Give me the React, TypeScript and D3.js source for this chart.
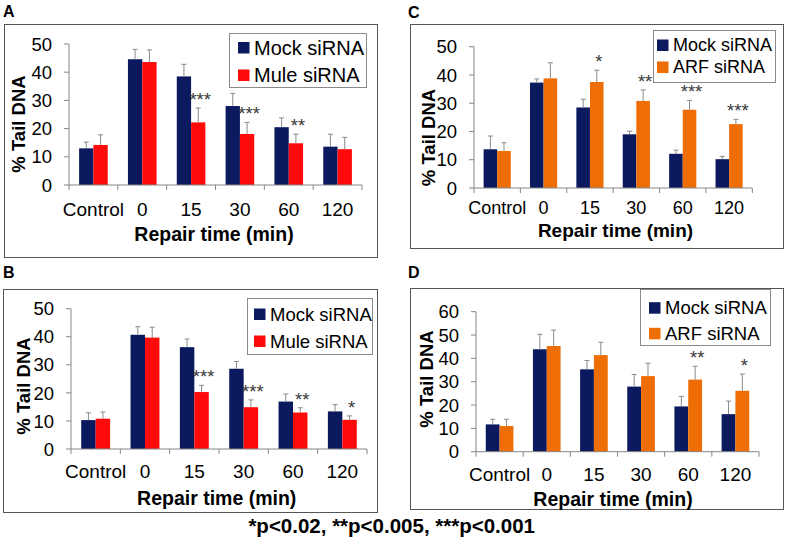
import React from "react";
import * as d3 from "d3";

const categories = ["Control", "0", "15", "30", "60", "120"];

// Panel A: Mock vs Mule siRNA
const mockA = [13.0, 44.6, 38.5, 28.0, 20.5, 13.6];
const muleA = [14.2, 43.6, 22.2, 18.1, 14.8, 12.7];
const mockAErr = [2.2, 3.5, 4.3, 4.5, 3.3, 4.4];
const muleAErr = [3.6, 4.3, 5.1, 4.1, 3.2, 4.2];
const starsA = ["", "", "***", "***", "**", ""];

// Panel B: Mock vs Mule siRNA
const mockB = [10.3, 40.7, 36.3, 28.6, 16.9, 13.4];
const muleB = [10.8, 39.7, 20.3, 14.9, 13.0, 10.4];
const mockBErr = [2.6, 2.9, 2.9, 2.6, 2.7, 2.4];
const muleBErr = [2.4, 3.7, 2.4, 2.6, 1.7, 1.4];
const starsB = ["", "", "***", "***", "**", "*"];

// Panel C: Mock vs ARF siRNA
const mockC = [13.7, 37.3, 28.5, 19.0, 12.1, 10.2];
const arfC = [13.1, 38.8, 37.5, 30.8, 27.7, 22.6];
const mockCErr = [4.7, 1.3, 2.9, 1.1, 1.3, 1.0];
const arfCErr = [2.9, 5.5, 4.2, 3.9, 3.3, 1.7];
const starsC = ["", "", "*", "**", "***", "***"];

// Panel D: Mock vs ARF siRNA
const mockD = [11.7, 43.9, 35.3, 27.9, 19.4, 16.1];
const arfD = [11.0, 45.3, 41.4, 32.4, 30.9, 26.1];
const mockDErr = [2.2, 6.4, 3.8, 5.2, 4.3, 5.6];
const arfDErr = [2.9, 6.8, 5.5, 5.5, 5.7, 7.2];
const starsD = ["", "", "", "", "**", "*"];

const yMaxAB = 50;
const yMaxC = 50;
const yMaxD = 60;

const FONT = "'Liberation Sans', Arial, Helvetica, sans-serif";
const NAVY = "#0b1a5e";
const RED = "#ff0a0a";
const ORANGE = "#ee6d05";

type Layout = {
  frame: [number, number, number, number];
  axisX: number;
  x1: number;
  y0: number;
  yTop: number;
  tickBase: number;
  tickFont: number;
  xTitle: [number, number];
  xTitleFont: number;
  yTitle: [number, number];
  letter: [number, number];
  legend: { x: number; y: number; w: number; h: number; textX: number; rows: [number, number]; font: number };
};

type PanelDef = {
  letter: string;
  names: [string, string];
  colors: [string, string];
  s1: number[];
  s2: number[];
  e1: number[];
  e2: number[];
  stars: string[];
  yMax: number;
  layout: Layout;
};

const panels: PanelDef[] = [
  {
    letter: "A",
    names: ["Mock siRNA", "Mule siRNA"],
    colors: [NAVY, RED],
    s1: mockA, s2: muleA, e1: mockAErr, e2: muleAErr, stars: starsA, yMax: yMaxAB,
    layout: {
      frame: [4, 24, 377, 257], axisX: 69, x1: 362, y0: 185, yTop: 44, tickBase: 216, tickFont: 19,
      xTitle: [214, 241], xTitleFont: 19.5, yTitle: [24.5, 124], letter: [3, 17],
      legend: { x: 229, y: 33, w: 137, h: 54, textX: 254, rows: [47.5, 75], font: 20 },
    },
  },
  {
    letter: "B",
    names: ["Mock siRNA", "Mule siRNA"],
    colors: [NAVY, RED],
    s1: mockB, s2: muleB, e1: mockBErr, e2: muleBErr, stars: starsB, yMax: yMaxAB,
    layout: {
      frame: [3, 289, 377, 512], axisX: 71, x1: 367, y0: 449, yTop: 308.7, tickBase: 478, tickFont: 19,
      xTitle: [216.7, 505], xTitleFont: 19.5, yTitle: [30, 386], letter: [3, 278],
      legend: { x: 247, y: 298, w: 125, h: 56, textX: 270, rows: [314, 341], font: 18.5 },
    },
  },
  {
    letter: "C",
    names: ["Mock siRNA", "ARF siRNA"],
    colors: [NAVY, ORANGE],
    s1: mockC, s2: arfC, e1: mockCErr, e2: arfCErr, stars: starsC, yMax: yMaxC,
    layout: {
      frame: [410, 24, 783, 248], axisX: 474, x1: 752.3, y0: 188, yTop: 46.7, tickBase: 214, tickFont: 18,
      xTitle: [615.5, 237], xTitleFont: 19, yTitle: [435, 137.5], letter: [408, 18],
      legend: { x: 653, y: 30, w: 122, h: 52, textX: 673, rows: [45, 67], font: 18 },
    },
  },
  {
    letter: "D",
    names: ["Mock siRNA", "ARF siRNA"],
    colors: [NAVY, ORANGE],
    s1: mockD, s2: arfD, e1: mockDErr, e2: arfDErr, stars: starsD, yMax: yMaxD,
    layout: {
      frame: [410, 288, 783, 509], axisX: 476, x1: 759, y0: 451.7, yTop: 311.7, tickBase: 481, tickFont: 19,
      xTitle: [613, 505.7], xTitleFont: 19.5, yTitle: [433, 379], letter: [408, 278],
      legend: { x: 640, y: 289, w: 130, h: 56, textX: 665, rows: [307.7, 333.3], font: 18.5 },
    },
  },
];

function BarPanel({ p }: { p: PanelDef }) {
  const L = p.layout;
  const x = d3.scaleBand<string>().domain(categories).range([L.axisX, L.x1]).padding(0);
  const y = d3.scaleLinear().domain([0, p.yMax]).range([L.y0, L.yTop]);
  const bw = x.bandwidth() * 0.293;
  const yTicks = d3.range(0, p.yMax + 1, 10);
  const boundaries = categories.map((c) => x(c) as number).concat([L.x1]);
  const series = [
    { vals: p.s1, errs: p.e1, color: p.colors[0], off: -bw },
    { vals: p.s2, errs: p.e2, color: p.colors[1], off: 0 },
  ];
  const [fx0, fy0, fx1, fy1] = L.frame;
  return (
    <g>
      <text x={L.letter[0]} y={L.letter[1]} fontFamily={FONT} fontWeight="bold" fontSize={16} fill="#000">
        {p.letter}
      </text>
      <rect x={fx0 + 0.5} y={fy0 + 0.5} width={fx1 - fx0} height={fy1 - fy0} fill="#fff" stroke="#555" strokeWidth={1} />
      {series.map((s, si) =>
        categories.map((c, i) => {
          const cx = (x(c) as number) + x.bandwidth() / 2 + s.off;
          return (
            <rect key={`b${si}-${i}`} x={cx} y={y(s.vals[i])} width={bw} height={L.y0 - y(s.vals[i])} fill={s.color} />
          );
        })
      )}
      {series.map((s, si) =>
        categories.map((c, i) => {
          const cx = (x(c) as number) + x.bandwidth() / 2 + s.off + bw / 2;
          const top = y(s.vals[i] + s.errs[i]);
          return (
            <g key={`e${si}-${i}`} stroke="#8a8a8a" strokeWidth={1}>
              <line x1={cx} x2={cx} y1={y(s.vals[i])} y2={top} />
              <line x1={cx - 2.5} x2={cx + 2.5} y1={top} y2={top} />
            </g>
          );
        })
      )}
      {categories.map((c, i) =>
        p.stars[i] ? (
          <text
            key={`s${i}`}
            x={(x(c) as number) + x.bandwidth() / 2 + bw / 2 + 2}
            y={y(p.s2[i] + p.e2[i]) - 2}
            textAnchor="middle"
            fontFamily={FONT}
            fontSize={18.5}
            fill="#3a3a3a"
          >
            {p.stars[i]}
          </text>
        ) : null
      )}
      <line x1={L.axisX} x2={L.axisX} y1={L.y0} y2={y(p.yMax)} stroke="#868686" strokeWidth={1} />
      <line x1={L.axisX} x2={L.x1} y1={L.y0} y2={L.y0} stroke="#868686" strokeWidth={1} />
      {yTicks.map((t) => (
        <g key={`yt${t}`}>
          <line x1={L.axisX - 5} x2={L.axisX} y1={y(t)} y2={y(t)} stroke="#868686" strokeWidth={1} />
          <text x={L.axisX - 17} y={y(t)} dy="0.36em" textAnchor="end" fontFamily={FONT} fontSize={18.5} fill="#000">
            {t}
          </text>
        </g>
      ))}
      {boundaries.map((bx, i) => (
        <line key={`xt${i}`} x1={bx} x2={bx} y1={L.y0} y2={L.y0 + 5} stroke="#868686" strokeWidth={1} />
      ))}
      {categories.map((c) => (
        <text
          key={`xl${c}`}
          x={(x(c) as number) + x.bandwidth() / 2}
          y={L.tickBase}
          textAnchor="middle"
          fontFamily={FONT}
          fontSize={L.tickFont}
          fill="#000"
        >
          {c}
        </text>
      ))}
      <text
        x={L.xTitle[0]}
        y={L.xTitle[1]}
        textAnchor="middle"
        fontFamily={FONT}
        fontWeight="bold"
        fontSize={L.xTitleFont}
        fill="#000"
      >
        Repair time (min)
      </text>
      <text
        transform={`translate(${L.yTitle[0]},${L.yTitle[1]}) rotate(-90)`}
        textAnchor="middle"
        fontFamily={FONT}
        fontWeight="bold"
        fontSize={18.5}
        fill="#000"
      >
        % Tail DNA
      </text>
      <rect
        x={L.legend.x + 0.5}
        y={L.legend.y + 0.5}
        width={L.legend.w}
        height={L.legend.h}
        fill="#fff"
        stroke="#8a8a8a"
        strokeWidth={1}
      />
      {p.names.map((n, i) => (
        <g key={`lg${i}`}>
          <rect x={L.legend.textX - 16} y={L.legend.rows[i] - 5.5} width={11.5} height={11.5} fill={p.colors[i]} />
          <text x={L.legend.textX} y={L.legend.rows[i]} dy="0.36em" fontFamily={FONT} fontSize={L.legend.font} fill="#000">
            {n}
          </text>
        </g>
      ))}
    </g>
  );
}

export default function App() {
  return (
    <svg
      width={787}
      height={549}
      viewBox="0 0 787 549"
      style={{ position: "absolute", left: 0, top: 0, background: "#fff", display: "block" }}
    >
      <rect x={0} y={0} width={787} height={549} fill="#fff" />
      {panels.map((p) => (
        <BarPanel key={p.letter} p={p} />
      ))}
      <text x={391.7} y={533} textAnchor="middle" fontFamily={FONT} fontWeight="bold" fontSize={20.5} fill="#000">
        *p&lt;0.02, **p&lt;0.005, ***p&lt;0.001
      </text>
    </svg>
  );
}
